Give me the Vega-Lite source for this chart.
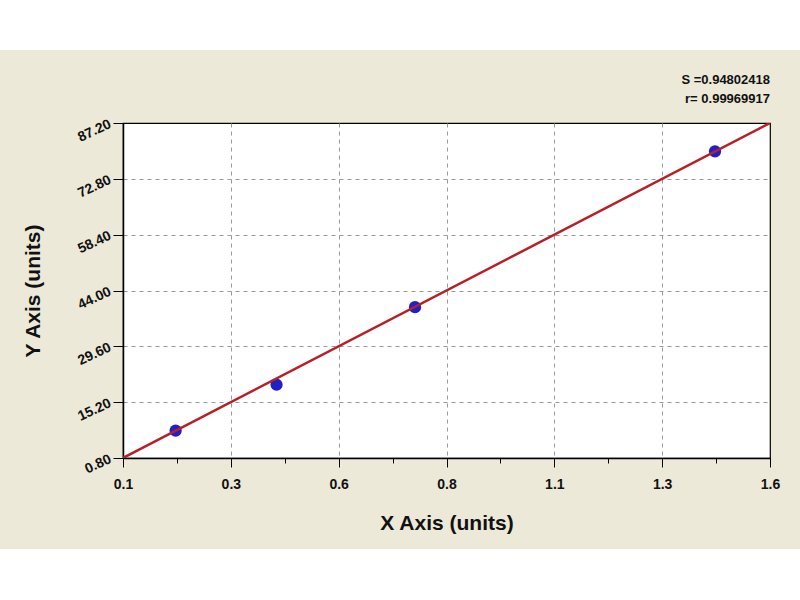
{
  "$schema": "https://vega.github.io/schema/vega-lite/v6.json",
  "background": "#ece9d8",
  "padding": 0,
  "config": {"font": "Liberation Sans"},
  "spacing": 23,
  "vconcat": [
    {
      "width": 800, "height": 50,
      "view": {"fill": "white", "stroke": null},
      "data": {"values": []},
      "mark": "point",
      "encoding": {}
    },
    {
      "spacing": 15,
      "vconcat": [
        {
          "spacing": 0,
          "hconcat": [
            {
              "width": 21, "height": 335,
              "view": {"fill": null, "stroke": null},
              "data": {"values": []},
              "mark": "point",
              "encoding": {}
            },
            {
              "width": 647, "height": 335,
              "view": {"fill": "white", "stroke": "black", "strokeWidth": 1.2},
              "title": {
                "text": ["S =0.94802418", "r= 0.99969917"],
                "anchor": "end", "frame": "group", "fontSize": 13, "fontWeight": "bold", "color": "#111",
                "lineHeight": 19, "offset": 11, "font": "Liberation Sans"
              },
              "layer": [
                {
                  "data": {"values": [
                    {"x": 0.222, "y": 7.84},
                    {"x": 0.456, "y": 19.7},
                    {"x": 0.777, "y": 39.7},
                    {"x": 1.4725, "y": 79.9}
                  ]},
                  "mark": {"type": "point", "filled": true, "color": "#2020c8", "size": 150, "opacity": 1},
                  "encoding": {
                    "x": {
                      "field": "x", "type": "quantitative",
                      "scale": {"domain": [0.1, 1.6], "nice": false, "zero": false},
                      "axis": {
                        "title": "X Axis (units)", "titleFontSize": 21, "titleFontWeight": "bold", "titleColor": "#111", "titlePadding": 21,
                        "values": [0.1, 0.1625, 0.225, 0.2875, 0.35, 0.4125, 0.475, 0.5375, 0.6, 0.6625, 0.725, 0.7875, 0.85, 0.9125, 0.975, 1.0375, 1.1, 1.1625, 1.225, 1.2875, 1.35, 1.4125, 1.475, 1.5375, 1.6],
                        "labelExpr": "abs((datum.value-0.1)/0.25 - round((datum.value-0.1)/0.25)) < 0.01 ? format(floor(datum.value*10+0.001)/10, '.1f') : ''",
                        "labelFontSize": 14, "labelFontWeight": "bold", "labelColor": "#111", "labelPadding": 10,
                        "labelFlush": false, "labelOverlap": false, "labelBound": false,
                        "tickSize": {"condition": {"test": "abs((datum.value-0.1)/0.25 - round((datum.value-0.1)/0.25)) < 0.01", "value": 9}, "value": 5},
                        "tickColor": "black", "tickWidth": 1,
                        "domainColor": "black", "domainWidth": 1.5,
                        "grid": true, "gridDash": [4, 4], "gridColor": "#999", "gridWidth": 1,
                        "gridOpacity": {"condition": {"test": "abs((datum.value-0.1)/0.25 - round((datum.value-0.1)/0.25)) < 0.01 && datum.value > 0.11 && datum.value < 1.59", "value": 1}, "value": 0}
                      }
                    },
                    "y": {
                      "field": "y", "type": "quantitative",
                      "scale": {"domain": [0.8, 87.2], "nice": false, "zero": false},
                      "axis": {
                        "title": "Y Axis (units)", "titleFontSize": 21, "titleFontWeight": "bold", "titleColor": "#111", "titlePadding": 32,
                        "values": [0.8, 4.4, 8, 11.6, 15.2, 18.8, 22.4, 26, 29.6, 33.2, 36.8, 40.4, 44, 47.6, 51.2, 54.8, 58.4, 62, 65.6, 69.2, 72.8, 76.4, 80, 83.6, 87.2],
                        "labelExpr": "abs((datum.value-0.8)/14.4 - round((datum.value-0.8)/14.4)) < 0.01 ? format(datum.value, '.2f') : ''",
                        "labelFontSize": 14, "labelFontWeight": "bold", "labelColor": "#111", "labelPadding": 3,
                        "labelAngle": -25, "labelAlign": "right", "labelBaseline": "middle",
                        "labelFlush": false, "labelOverlap": false, "labelBound": false,
                        "tickSize": {"condition": {"test": "abs((datum.value-0.8)/14.4 - round((datum.value-0.8)/14.4)) < 0.01", "value": 10}, "value": 6},
                        "tickColor": "black", "tickWidth": 1,
                        "domainColor": "black", "domainWidth": 1.5,
                        "grid": true, "gridDash": [4, 4], "gridColor": "#999", "gridWidth": 1,
                        "gridOpacity": {"condition": {"test": "abs((datum.value-0.8)/14.4 - round((datum.value-0.8)/14.4)) < 0.01 && datum.value > 1 && datum.value < 87", "value": 1}, "value": 0}
                      }
                    }
                  }
                },
                {
                  "data": {"values": [
                    {"x": 0.1, "y": 0.8},
                    {"x": 1.6, "y": 87.2}
                  ]},
                  "mark": {"type": "line", "color": "#b82028", "strokeWidth": 2.5, "clip": true},
                  "encoding": {
                    "x": {"field": "x", "type": "quantitative"},
                    "y": {"field": "y", "type": "quantitative"}
                  }
                }
              ]
            }
          ]
        },
        {
          "width": 800, "height": 50,
          "view": {"fill": "white", "stroke": null},
          "data": {"values": []},
          "mark": "point",
          "encoding": {}
        }
      ]
    }
  ]
}
